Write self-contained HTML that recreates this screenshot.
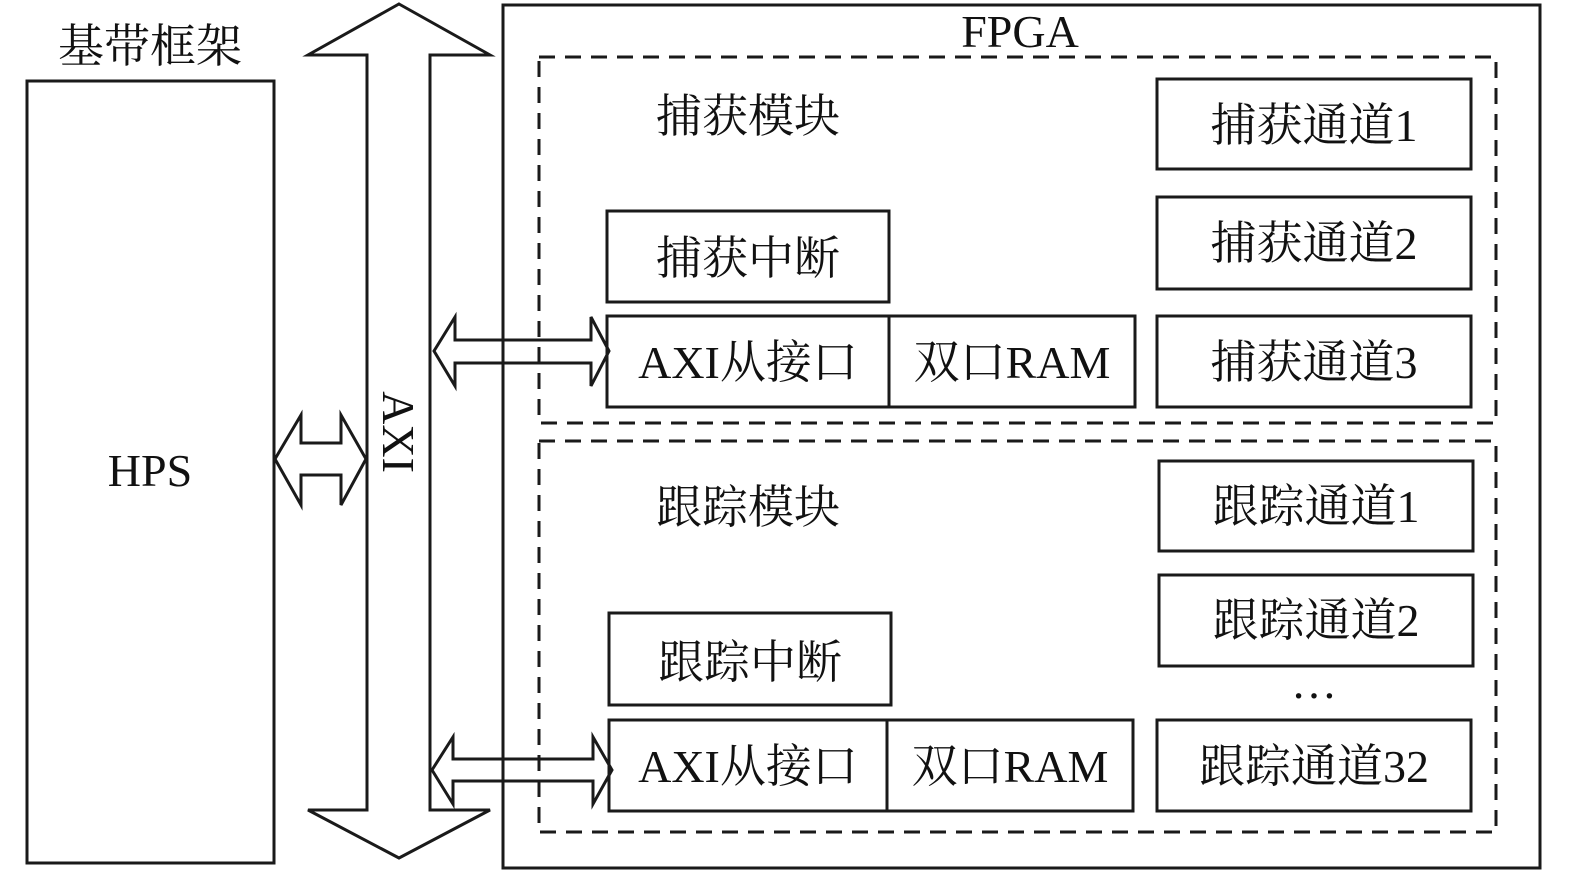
<!DOCTYPE html>
<html><head><meta charset="utf-8"><style>
html,body{margin:0;padding:0;background:#fff;}
svg text{font-family:"Liberation Serif","Noto Serif CJK SC",serif;fill:#111;}
</style></head><body>
<svg width="1575" height="878" viewBox="0 0 1575 878" xmlns="http://www.w3.org/2000/svg">
<g fill="none" stroke="#1a1a1a" stroke-width="3">
<rect x="27" y="81" width="247" height="782"/>
<rect x="503" y="5" width="1037" height="863"/>
<rect x="539" y="57" width="957" height="366" stroke-dasharray="16,10"/>
<rect x="539" y="441" width="957" height="391" stroke-dasharray="16,10"/>
<rect x="1157" y="79" width="314" height="90"/>
<rect x="1157" y="197" width="314" height="92"/>
<rect x="1157" y="316" width="314" height="91"/>
<rect x="607" y="211" width="282" height="91"/>
<rect x="607" y="316" width="528" height="91"/>
<line x1="889" y1="316" x2="889" y2="407"/>
<rect x="1159" y="461" width="314" height="90"/>
<rect x="1159" y="575" width="314" height="91"/>
<rect x="1157" y="720" width="314" height="91"/>
<rect x="609" y="613" width="282" height="92"/>
<rect x="609" y="720" width="524" height="91"/>
<line x1="887" y1="720" x2="887" y2="811"/>
<polygon points="399,4 490,55 430,55 430,810 490,810 399,858 308,810 367,810 367,55 308,55"/>
<polygon points="275,459 301,415 301,443 341,443 341,415 366,459 341,505 341,475 301,475 301,505"/>
<polygon points="434,351 455,317 455,340 591,340 591,317 609,351 591,386 591,363 455,363 455,386"/>
<polygon points="432,770 453,737 453,759 593,759 593,737 612,770 593,804 593,781 453,781 453,804"/>
</g>
<g font-size="46">
<text x="150" y="62" text-anchor="middle">基带框架</text>
<text x="150" y="486" text-anchor="middle">HPS</text>
<text x="1020" y="47" text-anchor="middle">FPGA</text>
<text x="748" y="132" text-anchor="middle">捕获模块</text>
<text x="1314" y="141" text-anchor="middle">捕获通道1</text>
<text x="1314" y="259" text-anchor="middle">捕获通道2</text>
<text x="1314" y="378" text-anchor="middle">捕获通道3</text>
<text x="748" y="274" text-anchor="middle">捕获中断</text>
<text x="748" y="378" text-anchor="middle">AXI从接口</text>
<text x="1012" y="378" text-anchor="middle">双口RAM</text>
<text x="748" y="523" text-anchor="middle">跟踪模块</text>
<text x="1316" y="522" text-anchor="middle">跟踪通道1</text>
<text x="1316" y="636" text-anchor="middle">跟踪通道2</text>
<text x="1314" y="698" text-anchor="middle">…</text>
<text x="750" y="678" text-anchor="middle">跟踪中断</text>
<text x="748" y="782" text-anchor="middle">AXI从接口</text>
<text x="1010" y="782" text-anchor="middle">双口RAM</text>
<text x="1314" y="782" text-anchor="middle">跟踪通道32</text>
<text transform="translate(383,432) rotate(90)" text-anchor="middle">AXI</text>
</g>
</svg>
</body></html>
